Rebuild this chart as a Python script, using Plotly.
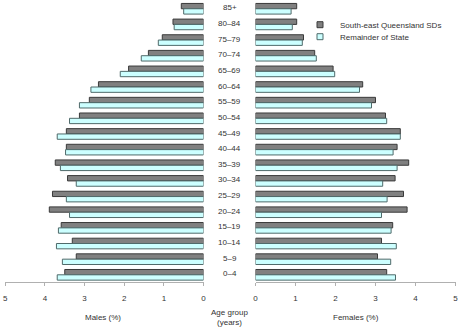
import plotly.graph_objects as go

age_groups = ["0–4", "5–9", "10–14", "15–19", "20–24", "25–29", "30–34", "35–39",
              "40–44", "45–49", "50–54", "55–59", "60–64", "65–69", "70–74", "75–79",
              "80–84", "85+"]

males_seq = [3.50, 3.21, 3.31, 3.59, 3.89, 3.81, 3.43, 3.74, 3.46, 3.46,
             3.13, 2.88, 2.65, 1.89, 1.39, 1.04, 0.77, 0.56]
males_rem = [3.69, 3.56, 3.71, 3.66, 3.38, 3.46, 3.21, 3.61, 3.48, 3.69,
             3.38, 3.13, 2.84, 2.10, 1.57, 1.14, 0.74, 0.50]
females_seq = [3.28, 3.05, 3.15, 3.43, 3.79, 3.70, 3.49, 3.83, 3.54, 3.62,
               3.25, 3.00, 2.68, 1.94, 1.48, 1.20, 1.03, 1.03]
females_rem = [3.50, 3.38, 3.52, 3.39, 3.15, 3.29, 3.18, 3.54, 3.44, 3.62,
               3.28, 2.90, 2.60, 1.98, 1.52, 1.17, 0.92, 0.89]

tick_vals = [0, 1, 2, 3, 4, 5]
tick_text = ["0", "1", "2", "3", "4", "5"]

series_names = ["South-east Queensland SDs", "Remainder of State"]
FONT = "Liberation Sans, Arial, sans-serif"
TXT = "#333333"
DARK_FILL, DARK_LINE = "#808080", "#3a3a3a"
LIGHT_FILL, LIGHT_LINE = "#ccffff", "#4f6a6a"
BW = 0.34

fig = go.Figure()
for xa, seq, rem in [("x", males_seq, males_rem), ("x2", females_seq, females_rem)]:
    fig.add_trace(go.Bar(y=age_groups, x=seq, orientation="h", xaxis=xa, yaxis="y",
                         name=series_names[0], showlegend=False,
                         width=BW, offset=-0.06,
                         marker=dict(color=DARK_FILL, line=dict(color=DARK_LINE, width=1))))
    fig.add_trace(go.Bar(y=age_groups, x=rem, orientation="h", xaxis=xa, yaxis="y",
                         name=series_names[1], showlegend=False,
                         width=BW, offset=-0.06 - BW,
                         marker=dict(color=LIGHT_FILL, line=dict(color=LIGHT_LINE, width=1))))

# legend entries (small square swatches like the original)
for name, fill, line, lg in [(series_names[0], DARK_FILL, DARK_LINE, "legend"),
                             (series_names[1], LIGHT_FILL, LIGHT_LINE, "legend2")]:
    fig.add_trace(go.Scatter(x=[None], y=[None], mode="markers", name=name, legend=lg,
                             xaxis="x2", yaxis="y", showlegend=True, hoverinfo="skip",
                             marker=dict(symbol="square", size=6, color=fill,
                                         line=dict(color=line, width=1))))

axis_common = dict(range=[0, 5], tickvals=tick_vals, ticktext=tick_text, ticks="outside",
                   ticklen=3, tickcolor="#b0b0b0", showline=True, linecolor="#b0b0b0",
                   linewidth=1, showgrid=False, zeroline=False, anchor="y",
                   tickfont=dict(family=FONT, size=8, color=TXT), ticklabelstandoff=6)

leg_common = dict(x=300 / 459, xanchor="left", yanchor="middle", bgcolor="rgba(0,0,0,0)",
                  font=dict(family=FONT, size=8, color=TXT))

fig.update_layout(
    width=459, height=327, margin=dict(l=0, r=0, t=0, b=0, autoexpand=False),
    paper_bgcolor="white", plot_bgcolor="white",
    barmode="overlay",
    font=dict(family=FONT, size=8, color=TXT),
    xaxis=dict(domain=[5.3 / 459, 203.5 / 459], autorange=False, **{**axis_common, "range": [5, 0]}),
    xaxis2=dict(domain=[255.5 / 459, 455.5 / 459], **axis_common),
    yaxis=dict(domain=[(327 - 281.7) / 327, 1], categoryorder="array", categoryarray=age_groups,
               range=[-0.5, 17.5], showticklabels=False, showline=False, showgrid=False,
               zeroline=False, ticks=""),
    legend=dict(y=1 - 24.7 / 327, **leg_common),
    legend2=dict(y=1 - 36.7 / 327, **leg_common),
    showlegend=True,
)

for g in age_groups:
    fig.add_annotation(x=230 / 459, xref="paper", y=g, yref="y", text=g, showarrow=False,
                       xanchor="center", yanchor="middle",
                       font=dict(family=FONT, size=8, color=TXT))

fig.add_annotation(x=103 / 459, xref="paper", y=(327 - 317) / 327, yref="paper",
                   text="Males (%)", showarrow=False, xanchor="center", yanchor="middle")
fig.add_annotation(x=356 / 459, xref="paper", y=(327 - 317) / 327, yref="paper",
                   text="Females (%)", showarrow=False, xanchor="center", yanchor="middle")
fig.add_annotation(x=229.5 / 459, xref="paper", y=(327 - 317) / 327, yref="paper",
                   text="Age group<br>(years)", showarrow=False, xanchor="center",
                   yanchor="middle")

fig.write_html("out.html", config={"displayModeBar": False},
               post_script="document.body.style.margin='0';")
